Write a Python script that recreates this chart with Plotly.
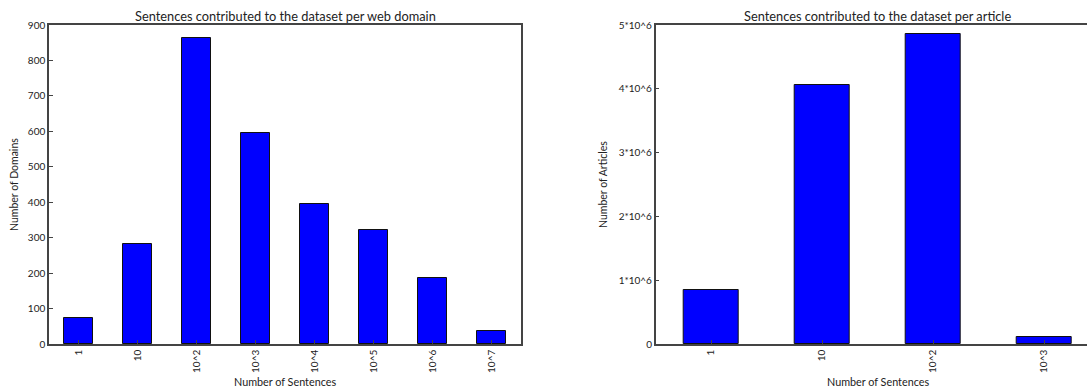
import plotly.graph_objects as go

W, H = 1087, 387

# Left chart data
domain_categories = ["1", "10", "10^2", "10^3", "10^4", "10^5", "10^6", "10^7"]
domain_counts = [72, 281, 863, 596, 395, 321, 185, 36]

# Right chart data
article_categories = ["1", "10", "10^2", "10^3"]
article_counts = [842000, 4055000, 4864000, 115000]

left_yticks = [0, 100, 200, 300, 400, 500, 600, 700, 800, 900]
right_yticks = [0, 1e6, 2e6, 3e6, 4e6, 5e6]
right_yticktext = ["0", "1*10^6", "2*10^6", "3*10^6", "4*10^6", "5*10^6"]

FONT = "Lato"
AXCOL = "#444444"
TXT = "#222222"

fig = go.Figure()
fig.add_trace(go.Bar(x=list(range(len(domain_categories))), y=domain_counts, width=0.5,
                     marker=dict(color="#0000FF", line=dict(color="#111111", width=1)),
                     xaxis="x", yaxis="y", showlegend=False))
fig.add_trace(go.Bar(x=list(range(len(article_categories))), y=article_counts, width=0.5,
                     marker=dict(color="#0000FF", line=dict(color="#111111", width=1)),
                     xaxis="x2", yaxis="y2", showlegend=False))

ytop, ybot = 25, 344
ydom = [1 - ybot / H, 1 - ytop / H]
lx0, lx1 = 49, 521
rx0 = 655.7

common_x = dict(showline=True, linecolor=AXCOL, linewidth=1.5, mirror=True, automargin=False,
                ticks="inside", ticklen=4, tickcolor=AXCOL, tickangle=-90,
                showgrid=False, zeroline=False, tickfont=dict(family=FONT, size=10, color=TXT))
common_y = dict(showline=True, linecolor=AXCOL, linewidth=1.5, automargin=False,
                ticks="inside", ticklen=4, tickcolor=AXCOL,
                showgrid=False, zeroline=False, tickfont=dict(family=FONT, size=10, color=TXT))

fig.update_layout(
    width=W, height=H,
    margin=dict(l=0, r=0, t=0, b=0, pad=0, autoexpand=False),
    paper_bgcolor="white", plot_bgcolor="white",
    bargap=0,
    xaxis=dict(domain=[lx0 / W, lx1 / W], range=[-0.5, 7.5],
               tickvals=list(range(len(domain_categories))), ticktext=domain_categories,
               anchor="y", **common_x),
    yaxis=dict(domain=ydom, range=[0, 900], tickvals=left_yticks, mirror=True,
               anchor="x", **common_y),
    xaxis2=dict(domain=[rx0 / W, 1], range=[-0.5, -0.5 + (W - rx0) / 111.0],
                tickvals=list(range(len(article_categories))), ticktext=article_categories,
                anchor="y2", **common_x),
    yaxis2=dict(domain=ydom, range=[0, 5e6], tickvals=right_yticks, ticktext=right_yticktext,
                mirror=False, anchor="x2", **common_y),
)

ann = [
    dict(text="Sentences contributed to the dataset per web domain", x=(lx0 + lx1) / 2 / W, y=1 - 16 / H,
         size=12.8),
    dict(text="Sentences contributed to the dataset per article", x=(rx0 + rx0 + 444) / 2 / W, y=1 - 16 / H,
         size=12.8),
    dict(text="Number of Sentences", x=(lx0 + lx1) / 2 / W, y=1 - 381 / H, size=10.8),
    dict(text="Number of Sentences", x=(rx0 + rx0 + 444) / 2 / W, y=1 - 381 / H, size=10.8),
]
for a in ann:
    fig.add_annotation(text=a["text"], x=a["x"], y=a["y"], xref="paper", yref="paper",
                       showarrow=False, xanchor="center", yanchor="middle",
                       font=dict(family=FONT, size=a["size"], color=TXT))
fig.add_annotation(text="Number of Domains", x=14 / W, y=1 - 185 / H, xref="paper", yref="paper",
                   showarrow=False, textangle=-90, xanchor="center", yanchor="middle",
                   font=dict(family=FONT, size=10.5, color=TXT))
fig.add_annotation(text="Number of Articles", x=603 / W, y=1 - 185 / H, xref="paper", yref="paper",
                   showarrow=False, textangle=-90, xanchor="center", yanchor="middle",
                   font=dict(family=FONT, size=10.5, color=TXT))

fig.write_html("out.html", config={"displayModeBar": False},
               post_script="document.body.style.margin='0';document.body.style.overflow='hidden';")
